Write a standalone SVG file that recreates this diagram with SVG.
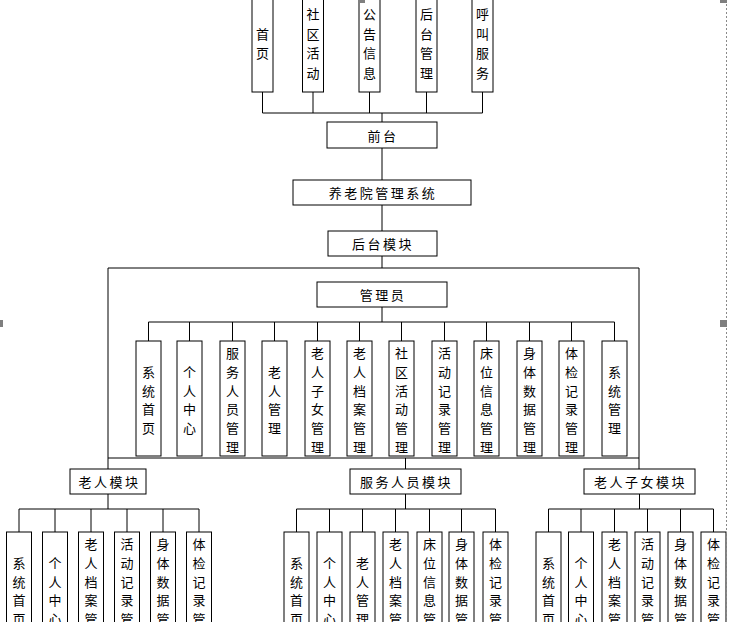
<svg xmlns="http://www.w3.org/2000/svg" width="730" height="622" viewBox="0 0 730 622">
<style>
.box{fill:#fff;stroke:#000;stroke-width:1}
.ln{stroke:#000;stroke-width:1;fill:none}
.t{font-family:"Noto Sans CJK SC","Noto Sans CJK JP",sans-serif;font-size:13px;fill:#000;text-anchor:middle;dominant-baseline:central}
.h{letter-spacing:2.5px}
.hd{fill:#7f7f7f}
</style>
<rect x="0" y="0" width="730" height="622" fill="#fff"/>
<g id="connectors" class="ln">
<path d="M262.5 92V113M313 92V113M369.5 92V113M426.5 92V113M482.5 92V113M262.5 113H482.5M382 113V122"/>
<path d="M382 148V180M382 205V231M382 256V268M108 268H639M108 268V469M639 268V469M108 458H639M405.5 458V469"/>
<path d="M382 307V322M148.5 322H614.5"/>
<path d="M148.5 322V341M189.5 322V341M232.5 322V341M274.5 322V341M317.5 322V341M359.5 322V341M401.5 322V341M444.5 322V341M486.5 322V341M529.5 322V341M571.5 322V341M614.5 322V341"/>
<path d="M108 494V509M19 509H199M19 509V532M55 509V532M91 509V532M127 509V532M163 509V532M199 509V532"/>
<path d="M405.5 494V509M296.5 509H495.5M296.5 509V532M329.5 509V532M362.5 509V532M395.5 509V532M429.5 509V532M461.5 509V532M495.5 509V532"/>
<path d="M639.5 494V509M548.5 509H713.5M548.5 509V532M581 509V532M614.5 509V532M647.5 509V532M680.5 509V532M713.5 509V532"/>
</g>
<g id="n-top">
<rect class="box" x="252" y="-8" width="21" height="100"/>
<text class="t" x="262.5"><tspan x="262.5" y="32.7">首</tspan><tspan x="262.5" y="52.4">页</tspan></text>
<rect class="box" x="302.5" y="-8" width="21" height="100"/>
<text class="t"><tspan x="313" y="13">社</tspan><tspan x="313" y="32.7">区</tspan><tspan x="313" y="52.4">活</tspan><tspan x="313" y="72">动</tspan></text>
<rect class="box" x="359" y="-8" width="21" height="100"/>
<text class="t"><tspan x="369.5" y="13">公</tspan><tspan x="369.5" y="32.7">告</tspan><tspan x="369.5" y="52.4">信</tspan><tspan x="369.5" y="72">息</tspan></text>
<rect class="box" x="416" y="-8" width="21" height="100"/>
<text class="t"><tspan x="426.5" y="13">后</tspan><tspan x="426.5" y="32.7">台</tspan><tspan x="426.5" y="52.4">管</tspan><tspan x="426.5" y="72">理</tspan></text>
<rect class="box" x="472" y="-8" width="21" height="100"/>
<text class="t"><tspan x="482.5" y="13">呼</tspan><tspan x="482.5" y="32.7">叫</tspan><tspan x="482.5" y="52.4">服</tspan><tspan x="482.5" y="72">务</tspan></text>
</g>
<g id="n-qiantai"><rect class="box" x="327" y="122" width="110" height="26"/><text class="t h" x="383" y="135">前台</text></g>
<g id="n-system"><rect class="box" x="293" y="180" width="178" height="25"/><text class="t h" x="383" y="192.5">养老院管理系统</text></g>
<g id="n-houtai"><rect class="box" x="328" y="231" width="109" height="25"/><text class="t h" x="383" y="243.5">后台模块</text></g>
<g id="n-admin"><rect class="box" x="317" y="282" width="130" height="25"/><text class="t h" x="383" y="294.5">管理员</text></g>
<g id="n-admin-items">
<rect class="box" x="136" y="341" width="25" height="115"/>
<text class="t"><tspan x="148.5" y="371">系</tspan><tspan x="148.5" y="389.7">统</tspan><tspan x="148.5" y="408.4">首</tspan><tspan x="148.5" y="427">页</tspan></text>
<rect class="box" x="177" y="341" width="25" height="115"/>
<text class="t"><tspan x="189.5" y="371">个</tspan><tspan x="189.5" y="389.7">人</tspan><tspan x="189.5" y="408.4">中</tspan><tspan x="189.5" y="427">心</tspan></text>
<rect class="box" x="220" y="341" width="25" height="115"/>
<text class="t"><tspan x="232.5" y="352.2">服</tspan><tspan x="232.5" y="370.9">务</tspan><tspan x="232.5" y="389.6">人</tspan><tspan x="232.5" y="408.3">员</tspan><tspan x="232.5" y="427">管</tspan><tspan x="232.5" y="445.7">理</tspan></text>
<rect class="box" x="262" y="341" width="25" height="115"/>
<text class="t"><tspan x="274.5" y="371">老</tspan><tspan x="274.5" y="389.7">人</tspan><tspan x="274.5" y="408.4">管</tspan><tspan x="274.5" y="427">理</tspan></text>
<rect class="box" x="305" y="341" width="25" height="115"/>
<text class="t"><tspan x="317.5" y="352.2">老</tspan><tspan x="317.5" y="370.9">人</tspan><tspan x="317.5" y="389.6">子</tspan><tspan x="317.5" y="408.3">女</tspan><tspan x="317.5" y="427">管</tspan><tspan x="317.5" y="445.7">理</tspan></text>
<rect class="box" x="347" y="341" width="25" height="115"/>
<text class="t"><tspan x="359.5" y="352.2">老</tspan><tspan x="359.5" y="370.9">人</tspan><tspan x="359.5" y="389.6">档</tspan><tspan x="359.5" y="408.3">案</tspan><tspan x="359.5" y="427">管</tspan><tspan x="359.5" y="445.7">理</tspan></text>
<rect class="box" x="389" y="341" width="25" height="115"/>
<text class="t"><tspan x="401.5" y="352.2">社</tspan><tspan x="401.5" y="370.9">区</tspan><tspan x="401.5" y="389.6">活</tspan><tspan x="401.5" y="408.3">动</tspan><tspan x="401.5" y="427">管</tspan><tspan x="401.5" y="445.7">理</tspan></text>
<rect class="box" x="432" y="341" width="25" height="115"/>
<text class="t"><tspan x="444.5" y="352.2">活</tspan><tspan x="444.5" y="370.9">动</tspan><tspan x="444.5" y="389.6">记</tspan><tspan x="444.5" y="408.3">录</tspan><tspan x="444.5" y="427">管</tspan><tspan x="444.5" y="445.7">理</tspan></text>
<rect class="box" x="474" y="341" width="25" height="115"/>
<text class="t"><tspan x="486.5" y="352.2">床</tspan><tspan x="486.5" y="370.9">位</tspan><tspan x="486.5" y="389.6">信</tspan><tspan x="486.5" y="408.3">息</tspan><tspan x="486.5" y="427">管</tspan><tspan x="486.5" y="445.7">理</tspan></text>
<rect class="box" x="517" y="341" width="25" height="115"/>
<text class="t"><tspan x="529.5" y="352.2">身</tspan><tspan x="529.5" y="370.9">体</tspan><tspan x="529.5" y="389.6">数</tspan><tspan x="529.5" y="408.3">据</tspan><tspan x="529.5" y="427">管</tspan><tspan x="529.5" y="445.7">理</tspan></text>
<rect class="box" x="559" y="341" width="25" height="115"/>
<text class="t"><tspan x="571.5" y="352.2">体</tspan><tspan x="571.5" y="370.9">检</tspan><tspan x="571.5" y="389.6">记</tspan><tspan x="571.5" y="408.3">录</tspan><tspan x="571.5" y="427">管</tspan><tspan x="571.5" y="445.7">理</tspan></text>
<rect class="box" x="602" y="341" width="25" height="115"/>
<text class="t"><tspan x="614.5" y="371">系</tspan><tspan x="614.5" y="389.7">统</tspan><tspan x="614.5" y="408.4">管</tspan><tspan x="614.5" y="427">理</tspan></text>
</g>
<g id="n-elder"><rect class="box" x="70" y="469" width="76" height="25"/><text class="t h" x="109.5" y="481.5">老人模块</text></g>
<g id="n-staff"><rect class="box" x="350" y="469" width="111" height="25"/><text class="t h" x="406.5" y="481.5">服务人员模块</text></g>
<g id="n-child"><rect class="box" x="584" y="469" width="111" height="25"/><text class="t h" x="640.5" y="481.5">老人子女模块</text></g>
<g id="n-elder-items">
<rect class="box" x="6.5" y="532" width="25" height="115"/>
<text class="t"><tspan x="19" y="562">系</tspan><tspan x="19" y="580.7">统</tspan><tspan x="19" y="599.4">首</tspan><tspan x="19" y="618">页</tspan></text>
<rect class="box" x="42.5" y="532" width="25" height="115"/>
<text class="t"><tspan x="55" y="562">个</tspan><tspan x="55" y="580.7">人</tspan><tspan x="55" y="599.4">中</tspan><tspan x="55" y="618">心</tspan></text>
<rect class="box" x="78.5" y="532" width="25" height="115"/>
<text class="t"><tspan x="91" y="543.2">老</tspan><tspan x="91" y="561.9">人</tspan><tspan x="91" y="580.6">档</tspan><tspan x="91" y="599.3">案</tspan><tspan x="91" y="618">管</tspan></text>
<rect class="box" x="114.5" y="532" width="25" height="115"/>
<text class="t"><tspan x="127" y="543.2">活</tspan><tspan x="127" y="561.9">动</tspan><tspan x="127" y="580.6">记</tspan><tspan x="127" y="599.3">录</tspan><tspan x="127" y="618">管</tspan></text>
<rect class="box" x="150.5" y="532" width="25" height="115"/>
<text class="t"><tspan x="163" y="543.2">身</tspan><tspan x="163" y="561.9">体</tspan><tspan x="163" y="580.6">数</tspan><tspan x="163" y="599.3">据</tspan><tspan x="163" y="618">管</tspan></text>
<rect class="box" x="186.5" y="532" width="25" height="115"/>
<text class="t"><tspan x="199" y="543.2">体</tspan><tspan x="199" y="561.9">检</tspan><tspan x="199" y="580.6">记</tspan><tspan x="199" y="599.3">录</tspan><tspan x="199" y="618">管</tspan></text>
</g>
<g id="n-staff-items">
<rect class="box" x="284" y="532" width="25" height="115"/>
<text class="t"><tspan x="296.5" y="562">系</tspan><tspan x="296.5" y="580.7">统</tspan><tspan x="296.5" y="599.4">首</tspan><tspan x="296.5" y="618">页</tspan></text>
<rect class="box" x="317" y="532" width="25" height="115"/>
<text class="t"><tspan x="329.5" y="562">个</tspan><tspan x="329.5" y="580.7">人</tspan><tspan x="329.5" y="599.4">中</tspan><tspan x="329.5" y="618">心</tspan></text>
<rect class="box" x="350" y="532" width="25" height="115"/>
<text class="t"><tspan x="362.5" y="562">老</tspan><tspan x="362.5" y="580.7">人</tspan><tspan x="362.5" y="599.4">管</tspan><tspan x="362.5" y="618">理</tspan></text>
<rect class="box" x="383" y="532" width="25" height="115"/>
<text class="t"><tspan x="395.5" y="543.2">老</tspan><tspan x="395.5" y="561.9">人</tspan><tspan x="395.5" y="580.6">档</tspan><tspan x="395.5" y="599.3">案</tspan><tspan x="395.5" y="618">管</tspan></text>
<rect class="box" x="417" y="532" width="25" height="115"/>
<text class="t"><tspan x="429.5" y="543.2">床</tspan><tspan x="429.5" y="561.9">位</tspan><tspan x="429.5" y="580.6">信</tspan><tspan x="429.5" y="599.3">息</tspan><tspan x="429.5" y="618">管</tspan></text>
<rect class="box" x="449" y="532" width="25" height="115"/>
<text class="t"><tspan x="461.5" y="543.2">身</tspan><tspan x="461.5" y="561.9">体</tspan><tspan x="461.5" y="580.6">数</tspan><tspan x="461.5" y="599.3">据</tspan><tspan x="461.5" y="618">管</tspan></text>
<rect class="box" x="483" y="532" width="25" height="115"/>
<text class="t"><tspan x="495.5" y="543.2">体</tspan><tspan x="495.5" y="561.9">检</tspan><tspan x="495.5" y="580.6">记</tspan><tspan x="495.5" y="599.3">录</tspan><tspan x="495.5" y="618">管</tspan></text>
</g>
<g id="n-child-items">
<rect class="box" x="536" y="532" width="25" height="115"/>
<text class="t"><tspan x="548.5" y="562">系</tspan><tspan x="548.5" y="580.7">统</tspan><tspan x="548.5" y="599.4">首</tspan><tspan x="548.5" y="618">页</tspan></text>
<rect class="box" x="568.5" y="532" width="25" height="115"/>
<text class="t"><tspan x="581" y="562">个</tspan><tspan x="581" y="580.7">人</tspan><tspan x="581" y="599.4">中</tspan><tspan x="581" y="618">心</tspan></text>
<rect class="box" x="602" y="532" width="25" height="115"/>
<text class="t"><tspan x="614.5" y="543.2">老</tspan><tspan x="614.5" y="561.9">人</tspan><tspan x="614.5" y="580.6">档</tspan><tspan x="614.5" y="599.3">案</tspan><tspan x="614.5" y="618">管</tspan></text>
<rect class="box" x="635" y="532" width="25" height="115"/>
<text class="t"><tspan x="647.5" y="543.2">活</tspan><tspan x="647.5" y="561.9">动</tspan><tspan x="647.5" y="580.6">记</tspan><tspan x="647.5" y="599.3">录</tspan><tspan x="647.5" y="618">管</tspan></text>
<rect class="box" x="668" y="532" width="25" height="115"/>
<text class="t"><tspan x="680.5" y="543.2">身</tspan><tspan x="680.5" y="561.9">体</tspan><tspan x="680.5" y="580.6">数</tspan><tspan x="680.5" y="599.3">据</tspan><tspan x="680.5" y="618">管</tspan></text>
<rect class="box" x="701" y="532" width="25" height="115"/>
<text class="t"><tspan x="713.5" y="543.2">体</tspan><tspan x="713.5" y="561.9">检</tspan><tspan x="713.5" y="580.6">记</tspan><tspan x="713.5" y="599.3">录</tspan><tspan x="713.5" y="618">管</tspan></text>
</g>
<g id="selection">
<line x1="726.5" y1="0" x2="726.5" y2="622" stroke="#8a8a8a" stroke-width="1" stroke-dasharray="2,2"/>
<rect class="hd" x="358" y="0" width="7" height="3"/>
<rect class="hd" x="720" y="0" width="7" height="3"/>
<rect class="hd" x="720" y="320" width="7" height="7"/>
<rect class="hd" x="0" y="320" width="3" height="7"/>
</g>
</svg>
